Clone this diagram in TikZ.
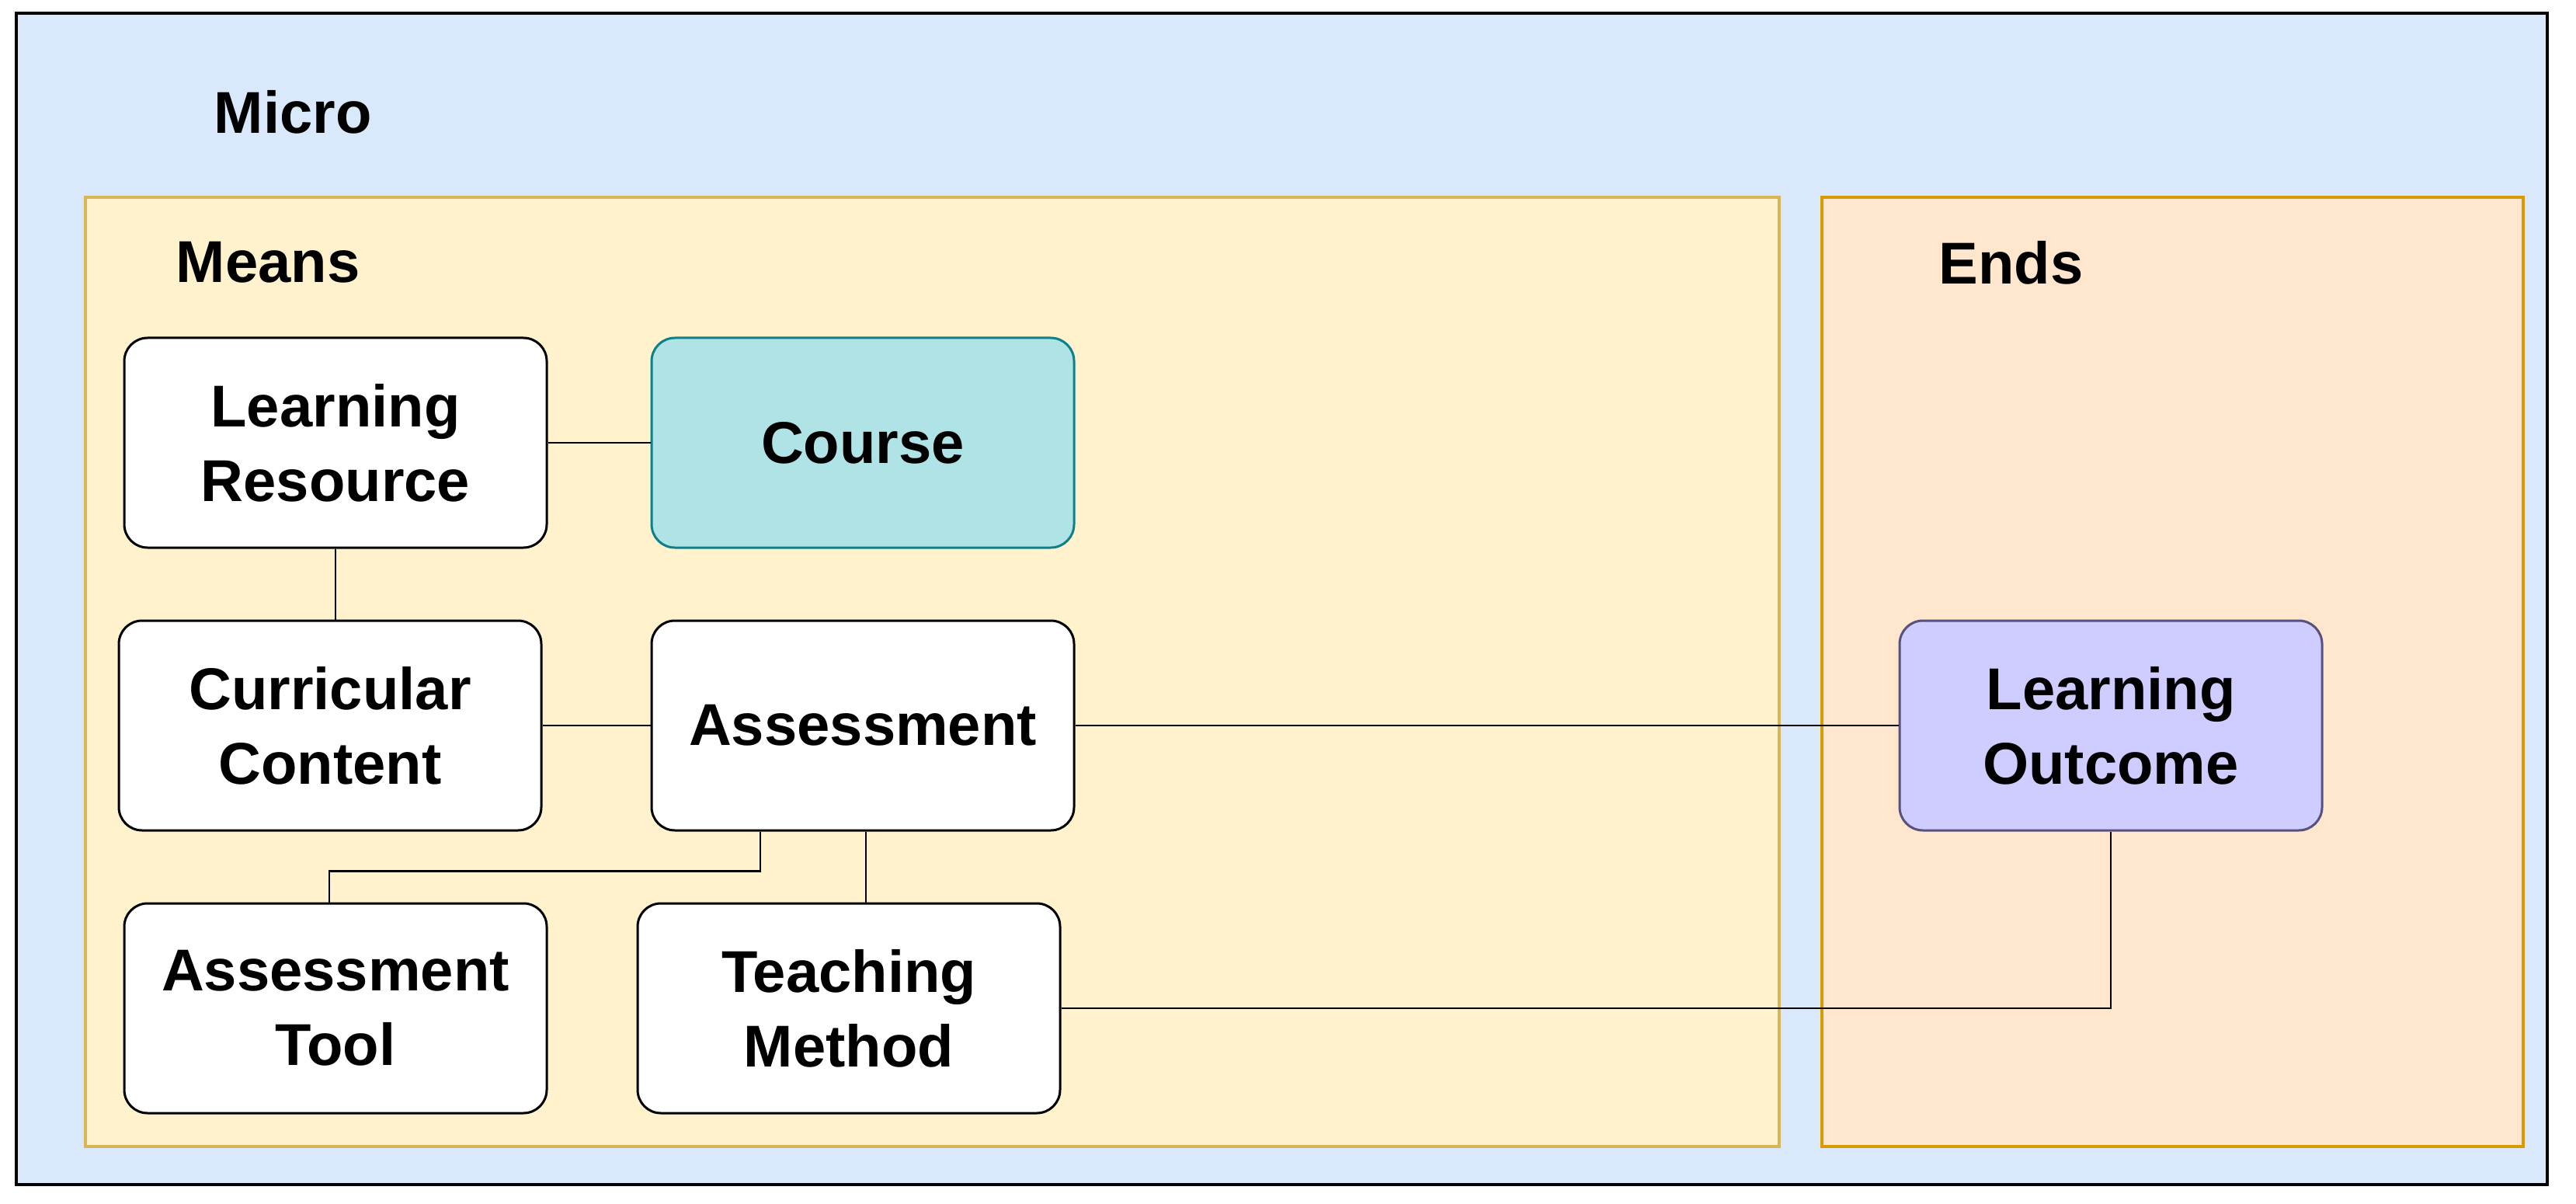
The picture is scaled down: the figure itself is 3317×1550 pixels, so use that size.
\documentclass[tikz,border=0pt]{standalone}
\usepackage{fontspec}
\setmainfont{Liberation Sans}
\usepackage{tikz}
\usetikzlibrary{calc,positioning}
\usepackage{xcolor}
\definecolor{microfill}{HTML}{DAE8FC}
\definecolor{meansfill}{HTML}{FFF2CC}
\definecolor{meansline}{HTML}{D6B656}
\definecolor{endsfill}{HTML}{FFE6CC}
\definecolor{endsline}{HTML}{D79B00}
\definecolor{coursefill}{HTML}{B0E3E6}
\definecolor{courseline}{HTML}{0E8088}
\definecolor{outcomefill}{HTML}{CFCCFF}
\definecolor{outcomeline}{HTML}{56517E}

\begin{document}
\begin{tikzpicture}[
    x=0.25pt, y=-0.25pt,
    font=\fontsize{19}{24}\selectfont\bfseries,
    concept/.style={draw, line width=0.75pt, fill=white, rounded corners=7.5pt,
        minimum width=136pt, minimum height=67.5pt, inner sep=0pt, align=center},
    link/.style={line width=0.6pt},
    title/.style={anchor=west, inner sep=0pt},
]
    \useasboundingbox (0,0) rectangle (3317,1550);

    % containers
    \filldraw [fill=microfill, draw=black, line width=1pt] (21,17) rectangle (3280,1525);
    \filldraw [fill=meansfill, draw=meansline, line width=0.8pt] (110,254) rectangle (2291,1476);
    \filldraw [fill=endsfill, draw=endsline, line width=0.8pt] (2346,254) rectangle (3249,1476);

    \node [title] (micro) at (275,144) {Micro};
    \node [title] (means) at (226,338) {Means};
    \node [title] (ends)  at (2496,338) {Ends};

    % concepts
    \node [concept] (resource)   at (432,570)  {Learning\\Resource};
    \node [concept, fill=coursefill, draw=courseline] (course) at (1111,570) {Course};
    \node [concept] (content)    at (425,934)  {Curricular\\Content};
    \node [concept] (assessment) at (1111,934) {Assessment};
    \node [concept] (tool)       at (432,1298) {Assessment\\Tool};
    \node [concept] (method)     at (1093,1298) {Teaching\\Method};
    \node [concept, fill=outcomefill, draw=outcomeline] (outcome) at (2718,934) {Learning\\Outcome};

    % links
    \draw [link] (resource) -- (course);
    \draw [link] (resource.south) -- (resource.south |- content.north);
    \draw [link] (content) -- (assessment);
    \draw [link] (assessment) -- (outcome);
    \draw [link] ([xshift=-33pt]assessment.south) -- ++(0,51) -| ([xshift=-2pt]tool.north);
    \draw [link] ([xshift=1pt]assessment.south) coordinate (split) -- (split |- method.north);
    \draw [link] (method.east) -| (outcome.south);
\end{tikzpicture}
\end{document}
